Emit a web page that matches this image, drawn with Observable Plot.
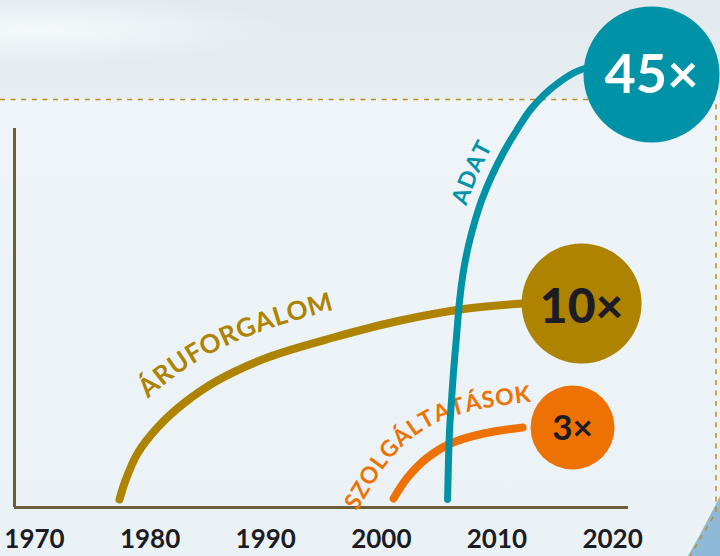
<!DOCTYPE html>
<html><head><meta charset="utf-8">
<script src="https://cdn.jsdelivr.net/npm/d3@7"></script>
<script src="https://cdn.jsdelivr.net/npm/@observablehq/plot@0.6"></script>
<style>
html,body{margin:0;padding:0;width:720px;height:556px;overflow:hidden;}
body{position:relative;font-family:Lato,sans-serif;
background:linear-gradient(to bottom,#e2eaee 0px,#e6eef2 98px,#eef4f7 100px,#ebf2f5 556px);}
#decor{position:absolute;left:0;top:0}
#chart{position:absolute;left:0;top:0}
</style></head><body>
<svg id="decor" width="720" height="556">
  <defs><radialGradient id="glow" cx="0.05" cy="0.3" r="0.35"><stop offset="0" stop-color="#f6fafc" stop-opacity="0.9"/><stop offset="1" stop-color="#f6fafc" stop-opacity="0"/></radialGradient></defs>
  <rect x="0" y="0" width="720" height="99" fill="url(#glow)"/>
  <path d="M688,556 Q704,528 720,496 L720,556 Z" fill="#8fb9d8"/>
  <path d="M0,99.5 H716 V512 L690,556" fill="none" stroke="#b8901f" stroke-width="1.5" stroke-dasharray="5 5.6"/>
</svg>
<div id="chart"></div>
<script>
// Tick labels
const tickYears = [1970, 1980, 1990, 2000, 2010, 2020];

// Series (year, relative index)
const aruYears  = [1977.35, 1977.87, 1978.91, 1980.64, 1982.89, 1985.83, 1990.16, 1995.86, 2001.66, 2007.46, 2012.30];
const aruValues = [0.8, 2.7, 5.4, 8.0, 10.4, 12.7, 15.0, 17.0, 18.7, 19.9, 20.4];

const szolgYears  = [2001.06, 2002.27, 2004.00, 2005.99, 2008.84, 2012.22];
const szolgValues = [0.9, 3.0, 5.0, 6.4, 7.4, 8.0];

const adatYears  = [2005.73, 2005.81, 2005.90, 2006.07, 2006.25, 2006.51, 2006.77, 2007.11, 2007.54, 2008.06, 2008.67, 2009.53, 2010.57, 2011.70, 2012.91, 2014.20, 2015.24, 2016.54, 2017.84];
const adatValues = [0.8, 4.7, 7.7, 10.7, 13.7, 17.2, 20.7, 23.7, 26.2, 28.5, 30.7, 33.1, 35.5, 37.7, 39.8, 41.4, 42.4, 43.4, 44.0];

// Series names and label centres (year)
const seriesNames = ["ÁRUFORGALOM", "SZOLGÁLTATÁSOK", "ADAT"];
const labelYears  = [1987.3, 2003.9, 2008.4];

// Growth badges
const badgeLabels = ["10×", "3×", "45×"];
const badgeYears  = [2017.32, 2016.54, 2023.37];
const badgeValues = [20.4, 8.0, 43.3];

const xDomain = [1968.27, 2021.38];
const yDomain = [0, 50.7];
const axisTop = 37.9;

const OLIVE = "#ad8300", ORANGE = "#ee7203", TEAL = "#0093a7", AXIS = "#6b5e3b", DARK = "#1d1c24";

const zip = (xs, ys) => xs.map((x, i) => ({year: x, value: ys[i]}));
const aru = zip(aruYears, aruValues);
const szolg = zip(szolgYears, szolgValues);
const adat = zip(adatYears, adatValues);
const badges = badgeLabels.map((b, i) => ({label: b, year: badgeYears[i], value: badgeValues[i]}));

const lineOpts = {x: "year", y: "value", strokeWidth: 8, strokeLinecap: "round", curve: "catmull-rom"};

const chart = Plot.plot({
  width: 720, height: 556,
  marginLeft: 14, marginRight: 92, marginTop: 0, marginBottom: 49,
  x: {domain: xDomain, axis: null},
  y: {domain: yDomain, axis: null},
  style: {background: "transparent", fontFamily: "Lato, sans-serif", overflow: "visible"},
  marks: [
    Plot.ruleY([yDomain[0]], {stroke: AXIS, strokeWidth: 3}),
    Plot.ruleX([xDomain[0]], {y1: yDomain[0], y2: axisTop, stroke: AXIS, strokeWidth: 3}),
    Plot.text(tickYears, {x: d => d, frameAnchor: "bottom", lineAnchor: "top", dy: 22, text: d => String(d),
      fontSize: 26, fontWeight: 700, fill: DARK}),
    Plot.line(aru, {...lineOpts, stroke: OLIVE}),
    Plot.line(szolg, {...lineOpts, stroke: ORANGE}),
    Plot.line(adat, {...lineOpts, stroke: TEAL, strokeWidth: 7}),
    Plot.dot([badges[0]], {x: "year", y: "value", r: 60, fill: OLIVE}),
    Plot.dot([badges[1]], {x: "year", y: "value", r: 42, fill: ORANGE}),
    Plot.dot([badges[2]], {x: "year", y: "value", r: 68, fill: TEAL}),
    Plot.text([badges[0]], {x: "year", y: "value", text: "label", fontSize: 48, fontWeight: 900, fill: DARK, lineAnchor: "middle", dy: 4}),
    Plot.text([badges[1]], {x: "year", y: "value", text: "label", fontSize: 35, fontWeight: 700, fill: DARK, lineAnchor: "middle", dy: 1}),
    Plot.text([badges[2]], {x: "year", y: "value", text: "label", fontSize: 54, fontWeight: 700, fill: "#ffffff", lineAnchor: "middle", dy: 1})
  ]
});
document.getElementById("chart").appendChild(chart);

// Curved series labels laid along each rendered line (offset to its upper-left side)
const NS = "http://www.w3.org/2000/svg";
const xScale = chart.scale("x");
const linePaths = Array.from(chart.querySelectorAll('g[aria-label="line"] path'));
const labelStyles = [
  {fill: OLIVE, fontSize: 26, offset: 26, spacing: 0.6},
  {fill: ORANGE, fontSize: 23, offset: 24, spacing: 0.8},
  {fill: TEAL, fontSize: 23, offset: 12, spacing: 0.8}
];
const labelLayer = document.createElementNS(NS, "g");
const tealGroup = linePaths[2].parentNode;
chart.insertBefore(labelLayer, tealGroup);

function curvedLabel(pathEl, text, cxYear, st) {
  const L = pathEl.getTotalLength(), N = 300, E = 120;
  const base = [];
  for (let i = 0; i <= N; i++) { const p = pathEl.getPointAtLength(L * i / N); base.push([p.x, p.y]); }
  const off = base.map((p, i) => {
    const a = base[Math.max(0, i - 2)], b = base[Math.min(N, i + 2)];
    let tx = b[0] - a[0], ty = b[1] - a[1]; const m = Math.hypot(tx, ty) || 1; tx /= m; ty /= m;
    return [p[0] + ty * st.offset, p[1] - tx * st.offset];
  });
  const ext = (p, q) => { const dx = p[0] - q[0], dy = p[1] - q[1], m = Math.hypot(dx, dy) || 1; return [p[0] + dx / m * E, p[1] + dy / m * E]; };
  const poly = [ext(off[0], off[3]), ...off, ext(off[N], off[N - 3])];
  const cum = [0];
  for (let i = 1; i < poly.length; i++) cum.push(cum[i - 1] + Math.hypot(poly[i][0] - poly[i - 1][0], poly[i][1] - poly[i - 1][1]));
  const at = s => {
    let i = 1; while (i < poly.length - 1 && cum[i] < s) i++;
    const t = (s - cum[i - 1]) / ((cum[i] - cum[i - 1]) || 1);
    const a = poly[i - 1], b = poly[i];
    return {x: a[0] + (b[0] - a[0]) * t, y: a[1] + (b[1] - a[1]) * t, ang: Math.atan2(b[1] - a[1], b[0] - a[0]) * 180 / Math.PI};
  };
  const cx = xScale.apply(cxYear);
  let ci = 0; while (ci < poly.length - 1 && poly[ci][0] < cx) ci++;
  const sCenter = cum[ci];
  const chars = Array.from(text);
  const mk = c => {
    const t = document.createElementNS(NS, "text");
    t.setAttribute("font-size", st.fontSize); t.setAttribute("font-weight", 700); t.setAttribute("font-family", "Lato, sans-serif");
    t.textContent = c; return t;
  };
  const widths = chars.map(c => { const t = mk(c); labelLayer.appendChild(t); const w = t.getComputedTextLength(); t.remove(); return w; });
  const total = widths.reduce((a, b) => a + b, 0) + st.spacing * (chars.length - 1);
  let s = sCenter - total / 2;
  chars.forEach((c, i) => {
    const p = at(s + widths[i] / 2);
    const t = mk(c);
    t.setAttribute("fill", st.fill); t.setAttribute("text-anchor", "middle");
    t.setAttribute("transform", `translate(${p.x.toFixed(2)},${p.y.toFixed(2)}) rotate(${p.ang.toFixed(2)})`);
    labelLayer.appendChild(t);
    s += widths[i] + st.spacing;
  });
}
seriesNames.forEach((name, i) => curvedLabel(linePaths[i], name, labelYears[i], labelStyles[i]));
</script>
</body></html>
